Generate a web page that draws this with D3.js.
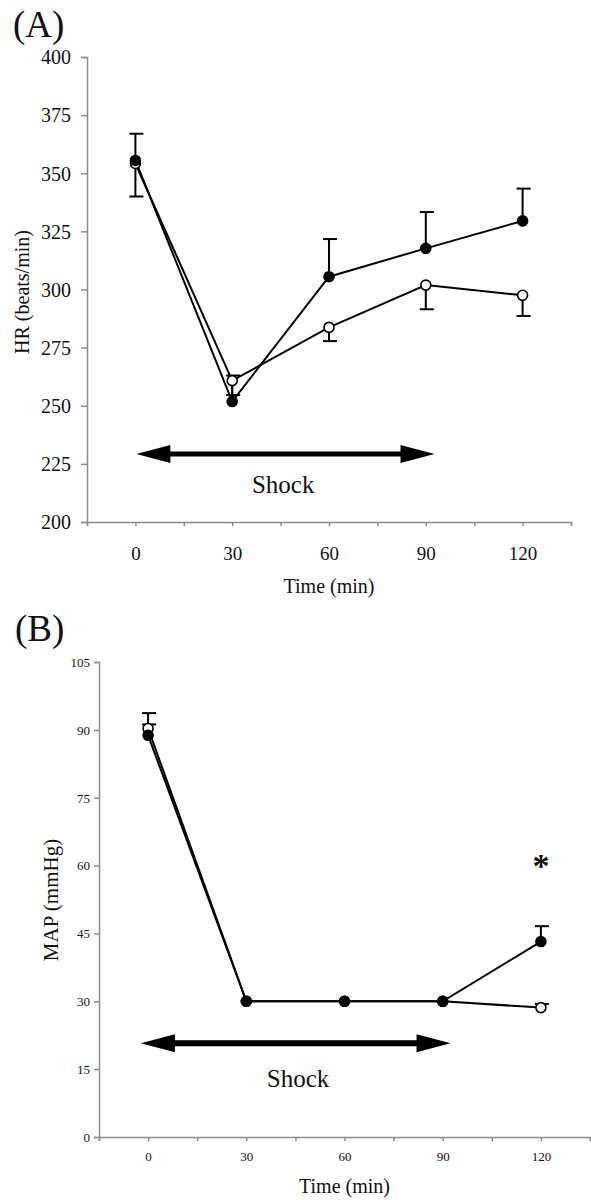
<!DOCTYPE html>
<html>
<head>
<meta charset="utf-8">
<script src="https://cdn.jsdelivr.net/npm/d3@7"></script>
<style>
  body { margin: 0; background: #fff; }
  svg text { font-family: "Liberation Serif", "Times New Roman", serif; fill: #111; }
</style>
</head>
<body>
<div id="chart"></div>
<script>
// time points (min)
var times = [0, 30, 60, 90, 120];
var xTicks = [-15, 0, 15, 30, 45, 60, 75, 90, 105, 120, 135];

// (A) heart rate, beats/min
var hrFilled = [355.5, 251.8, 305.5, 317.7, 329.5];
var hrFilledErr = [11.5, 11.2, 16.2, 15.6, 13.9];   // drawn upward
var hrOpen = [354.2, 260.8, 283.7, 301.9, 297.5];
var hrOpenErr = [14.2, 6.2, 5.9, 10.4, 8.9];        // drawn downward
var hrTicks = [200, 225, 250, 275, 300, 325, 350, 375, 400];

// (B) mean arterial pressure, mmHg
var mapFilled = [88.8, 30, 30, 30, 43.2];
var mapFilledErr = [4.9, 0, 0, 0, 3.4];
var mapOpen = [90.3, 30, 30, 30, 28.6];
var mapOpenErr = [0.9, 0, 0, 0, 0.8];
var mapTicks = [0, 15, 30, 45, 60, 75, 90, 105];

// shock period arrows: [start time, end time, y value]
var hrShock = [0.3, 92.7, 229.2];
var mapShock = [-2.2, 92.4, 20.7];

var W = 591, H = 1200;
var svg = d3.select("#chart").append("svg")
    .attr("width", W).attr("height", H);

function panel(o) {
  var x = d3.scaleLinear().domain([-15, 135]).range(o.xr);
  var y = d3.scaleLinear().domain(o.yd).range(o.yr);
  var g = svg.append("g");

  // axes
  var xa = g.append("g").attr("transform", "translate(0," + o.yr[0] + ")")
      .call(d3.axisBottom(x).tickValues(xTicks).tickSize(o.xTick)
        .tickFormat(function(d){ return (d >= 0 && d % 30 === 0) ? d : ""; }));
  xa.selectAll("text").attr("y", o.xLabY).attr("dy", 0)
      .style("font-size", o.xFont + "px");
  var ya = g.append("g").attr("transform", "translate(" + o.xr[0] + ",0)")
      .call(d3.axisLeft(y).tickValues(o.yTicks).tickSize(o.yTick));
  ya.selectAll("text").attr("x", o.yLabX).attr("dy", "0.34em")
      .style("font-size", o.yFont + "px");
  g.selectAll(".domain, .tick line").attr("stroke", "#8c8c8c").attr("stroke-width", 1.5);

  // axis titles
  g.append("text").attr("x", (o.xr[0] + o.xr[1]) / 2).attr("y", o.xTitleY)
      .attr("text-anchor", "middle").style("font-size", "20px").text("Time (min)");
  g.append("text")
      .attr("transform", "translate(" + o.yTitleX + "," + o.yTitleY + ") rotate(-90)")
      .attr("text-anchor", "middle").style("font-size", o.yTitleFont + "px").text(o.yTitle);
  g.append("text").attr("x", o.tagX).attr("y", o.tagY)
      .style("font-size", "37px").text(o.tag);

  // shock arrow
  var s = o.shock, x0 = x(s[0]), x1 = x(s[1]), yc = y(s[2]);
  var hl = 34, hh = 9, st = o.shaft;
  var pts = [[x0, yc], [x0 + hl, yc - hh], [x0 + hl, yc - st], [x1 - hl, yc - st],
             [x1 - hl, yc - hh], [x1, yc], [x1 - hl, yc + hh], [x1 - hl, yc + st],
             [x0 + hl, yc + st], [x0 + hl, yc + hh]];
  g.append("path").attr("d", d3.line()(pts) + "Z").attr("fill", "#000");
  g.append("text").attr("x", x(45.8)).attr("y", o.shockY)
      .attr("text-anchor", "middle").style("font-size", "25px").text("Shock");

  var line = d3.line().x(function(d){ return x(d[0]); }).y(function(d){ return y(d[1]); });
  var series = [
    { v: o.open, e: o.openErr, dir: o.openDir, fill: "#fff" },
    { v: o.filled, e: o.filledErr, dir: 1, fill: "#000" }
  ];
  series.forEach(function(sr) {
    g.append("path").datum(times.map(function(t, i){ return [t, sr.v[i]]; }))
        .attr("d", line).attr("fill", "none").attr("stroke", "#000").attr("stroke-width", 2);
  });
  series.forEach(function(sr) {
    times.forEach(function(t, i) {
      if (!sr.e[i]) return;
      var yEnd = y(sr.v[i] + sr.dir * sr.e[i]);
      g.append("line").attr("x1", x(t)).attr("x2", x(t))
          .attr("y1", y(sr.v[i])).attr("y2", yEnd)
          .attr("stroke", "#000").attr("stroke-width", 2);
      g.append("line").attr("x1", x(t) - 6).attr("x2", x(t) + 8)
          .attr("y1", yEnd).attr("y2", yEnd)
          .attr("stroke", "#000").attr("stroke-width", 2);
    });
  });
  series.forEach(function(sr) {
    g.selectAll(null).data(times).enter().append("circle")
        .attr("cx", function(t){ return x(t); })
        .attr("cy", function(t, i){ return y(sr.v[i]); })
        .attr("r", 5).attr("fill", sr.fill)
        .attr("stroke", "#000").attr("stroke-width", 1.6);
  });
  return { x: x, y: y, g: g };
}

panel({
  xr: [87, 571], yd: [200, 400], yr: [522, 57], yTicks: hrTicks,
  xTick: 4, yTick: 6, xLabY: 38, yLabX: -16, xFont: 19, yFont: 20,
  xTitleY: 593, yTitleX: 29, yTitleY: 292, yTitleFont: 20, yTitle: "HR (beats/min)",
  tag: "(A)", tagX: 13, tagY: 37,
  shock: hrShock, shaft: 2.5, shockY: 493,
  filled: hrFilled, filledErr: hrFilledErr, open: hrOpen, openErr: hrOpenErr, openDir: -1
});

var pB = panel({
  xr: [99, 590], yd: [0, 105], yr: [1137, 662], yTicks: mapTicks,
  xTick: 4, yTick: 5, xLabY: 23.5, yLabX: -9, xFont: 13, yFont: 13,
  xTitleY: 1193, yTitleX: 58, yTitleY: 900, yTitleFont: 21, yTitle: "MAP (mmHg)",
  tag: "(B)", tagX: 15, tagY: 641,
  shock: mapShock, shaft: 3, shockY: 1087,
  filled: mapFilled, filledErr: mapFilledErr, open: mapOpen, openErr: mapOpenErr, openDir: 1
});

// significance mark at 120 min
pB.g.append("text").attr("x", pB.x(120)).attr("y", pB.y(57.5))
    .attr("text-anchor", "middle").style("font-size", "34px")
    .style("font-weight", "bold").text("*");
</script>
</body>
</html>
